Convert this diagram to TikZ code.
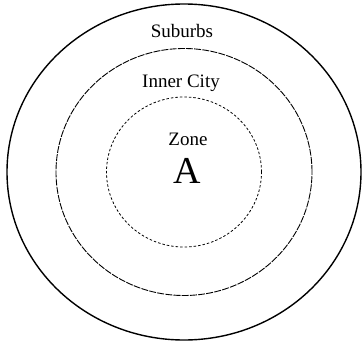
\documentclass[tikz,border=0pt]{standalone}
\usepackage{fontspec}
\setmainfont{Liberation Serif}
\usetikzlibrary{shapes.geometric}
\begin{document}
\begin{tikzpicture}[x=1pt, y=1pt,
		ring/.style={draw, ellipse, inner sep=0pt, outer sep=0pt},
		label text/.style={anchor=base, font=\fontsize{19}{22}\selectfont}]
	\useasboundingbox (0,0) rectangle (362,341);
	\coordinate (c) at (184,169);
	
	% 1. 三个同心环
	\node[ring, line width=1.4pt, minimum width=354, minimum height=336] (suburbs) at (c) {};
	\node[ring, line width=0.9pt, dash pattern=on 7pt off 1.2pt, minimum width=256, minimum height=247] (inner city) at (c) {};
	\node[ring, line width=0.8pt, dash pattern=on 2.5pt off 2pt, minimum width=155, minimum height=150] (zone) at (c) {};
	
	% 2. 区域名称
	\node[label text] (suburbs label) at (182,303) {Suburbs};
	\node[label text] (inner label) at (181,254) {Inner City};
	\node[label text] (zone label) at (188,196) {Zone};
	\node[anchor=base, font=\fontsize{38}{40}\selectfont] (zone a) at (187,158) {A};
\end{tikzpicture}
\end{document}
